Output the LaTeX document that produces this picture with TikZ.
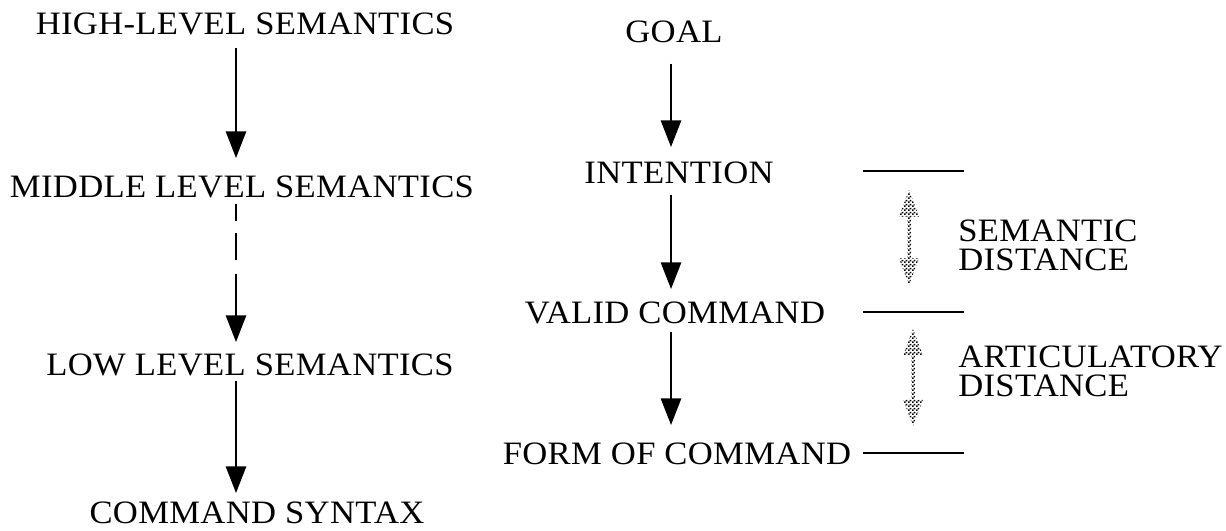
\documentclass[tikz,border=0pt]{standalone}
\usepackage{fontspec}
\usetikzlibrary{arrows.meta,calc,patterns.meta}

\newfontfamily\levelface{Liberation Serif}[FakeStretch=1.06,LetterSpace=1]

% checker dither used for the distance arrows
\tikzdeclarepattern{
  name=finechecker,
  type=uncolored,
  bottom left={(0pt,0pt)},
  top right={(3pt,3pt)},
  tile size={(3pt,3pt)},
  code={
    \fill (0pt,0pt) rectangle (1.5pt,1.5pt);
    \fill (1.5pt,1.5pt) rectangle (3pt,3pt);
  }
}

\newcommand{\levelfont}{\levelface\fontsize{24.5pt}{21.5pt}\selectfont}

\tikzset{
  level/.style={inner sep=0pt,anchor=base,font=\levelfont},
  flow/.style={-{Triangle[length=20pt,width=15pt]},line width=2pt},
  rule/.style={line width=2pt},
  distfill/.style={pattern=finechecker,pattern color=black}
}

% double headed dithered arrow between two coordinates (top first)
\newcommand{\distarrow}[2]{%
  \fill[distfill] let \p1=(#1), \p2=(#2) in
    (\p1) -- (\x1-7.5pt,\y1-20pt) -- (\x1-1.5pt,\y1-20pt) -- (\x2-1.5pt,\y2+20pt)
    -- (\x2-7.5pt,\y2+20pt) -- (\p2) -- (\x2+7.5pt,\y2+20pt) -- (\x2+1.5pt,\y2+20pt)
    -- (\x1+1.5pt,\y1-20pt) -- (\x1+7.5pt,\y1-20pt) -- cycle;}

\begin{document}
\begin{tikzpicture}[x=0.75pt,y=-0.75pt]
    \useasboundingbox (0,0) rectangle (1226,531);

    % left column
    \coordinate (lcol) at (236,0);
    \node[level] (hls) at (245,35)  {HIGH-LEVEL SEMANTICS};
    \node[level] (mls) at (242,197) {MIDDLE LEVEL SEMANTICS};
    \node[level] (lls) at (250,375) {LOW LEVEL SEMANTICS};
    \node[level] (cs)  at (257,523) {COMMAND SYNTAX};

    \draw[flow,shorten <=9pt,shorten >=12.75pt] (hls.south -| lcol) -- (mls.north -| lcol);
    \draw[flow,dash pattern=on 12.75pt off 9pt on 20.25pt off 10.5pt on 200pt,
          shorten <=4.5pt,shorten >=8.25pt] (mls.south -| lcol) -- (lls.north -| lcol);
    \draw[flow,shorten <=3.75pt,shorten >=6pt] (lls.south -| lcol) -- (cs.north -| lcol);

    % right column
    \coordinate (rcol) at (671,0);
    \node[level] (goal)   at (674,43)  {GOAL};
    \node[level] (intent) at (679,183) {INTENTION};
    \node[level] (valid)  at (675,323) {VALID COMMAND};
    \node[level] (form)   at (677,464) {FORM OF COMMAND};

    \draw[flow,shorten <=15pt,shorten >=10.5pt] (goal.south -| rcol) -- (intent.north -| rcol);
    \draw[flow,shorten <=8.25pt,shorten >=9pt] (intent.south -| rcol) -- (valid.north -| rcol);
    \draw[flow,shorten <=6pt,shorten >=12.75pt] (valid.south -| rcol) -- (form.north -| rcol);

    % distance marks
    \coordinate (mark1) at (863,171);
    \coordinate (mark2) at (863,312);
    \coordinate (mark3) at (863,453);
    \foreach \m in {mark1,mark2,mark3}
        \draw[rule] (\m) -- ++(101,0);

    \coordinate (sem1) at (909,190);
    \coordinate (sem2) at (909,285);
    \coordinate (art1) at (913,329);
    \coordinate (art2) at (913,426);
    \distarrow{sem1}{sem2}
    \distarrow{art1}{art2}

    \node[level,anchor=north west,align=left] (semdist) at (958,220) {SEMANTIC\\DISTANCE};
    \node[level,anchor=north west,align=left] (artdist) at (958,346) {ARTICULATORY\\DISTANCE};
\end{tikzpicture}
\end{document}
